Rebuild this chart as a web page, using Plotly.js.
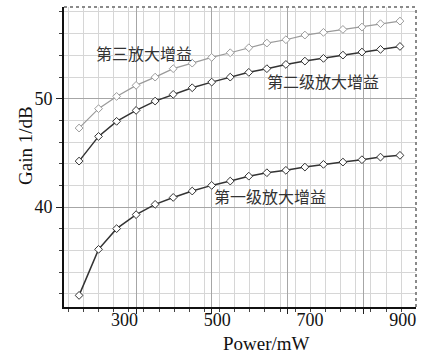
<!DOCTYPE html>
<html>
<head>
<meta charset="utf-8">
<script src="https://cdn.plot.ly/plotly-3.0.1.min.js"></script>
<style>html,body{margin:0;padding:0;background:#fff;}#chart{width:422px;height:358px;}</style>
</head>
<body>
<div id="chart"></div>
<script>
// Power (mW)
const power = [202, 244, 283, 325, 366, 405, 446, 488, 528, 568, 607, 648, 689, 729, 771, 812, 852, 894];
// Gain (dB)
const gainStage3 = [47.29, 49.08, 50.21, 51.23, 51.99, 52.77, 53.28, 53.81, 54.24, 54.70, 55.13, 55.44, 55.87, 56.12, 56.39, 56.61, 56.92, 57.16];
const gainStage2 = [44.24, 46.52, 47.91, 48.92, 49.78, 50.40, 51.01, 51.53, 51.99, 52.43, 52.77, 53.16, 53.47, 53.72, 54.02, 54.30, 54.55, 54.82];
const gainStage1 = [31.85, 36.10, 38.01, 39.30, 40.25, 40.89, 41.48, 42.00, 42.40, 42.85, 43.17, 43.39, 43.69, 43.94, 44.15, 44.37, 44.61, 44.77];
const xTickVals = [300, 500, 700, 900];
const xTickText = ['300', '500', '700', '900'];
const seriesNames = ['第三放大增益', '第二级放大增益', '第一级放大增益'];

const serif = 'Liberation Serif, Times New Roman, serif';
const cjk = 'Noto Sans CJK SC, sans-serif';

function mk(y, name, color, lw) {
  return {
    x: power, y: y, name: name, type: 'scatter', mode: 'lines+markers',
    xaxis: 'x', yaxis: 'y',
    line: {color: color, width: lw},
    marker: {symbol: 'diamond', size: 6, color: '#ffffff', line: {color: color, width: 1}},
    hoverinfo: 'x+y'
  };
}

const traces = [
  {x: [null], y: [null], xaxis: 'x2', yaxis: 'y', mode: 'markers', showlegend: false, hoverinfo: 'skip'},
  mk(gainStage3, seriesNames[0], '#9a9a9a', 1.2),
  mk(gainStage2, seriesNames[1], '#333333', 1.5),
  mk(gainStage1, seriesNames[2], '#333333', 1.5)
];

const PW = 422 - 64 - 6, PH = 358 - 7 - 51;
const layout = {
  width: 422, height: 358,
  margin: {l: 64, r: 6, t: 7, b: 51, pad: 0},
  paper_bgcolor: '#ffffff', plot_bgcolor: '#ffffff',
  showlegend: false,
  font: {family: serif, color: '#111', size: 18},
  xaxis: {
    range: [169.5, 928.6], tickvals: xTickVals, ticktext: xTickText,
    ticks: '', ticklabelstandoff: 0,
    showgrid: false, zeroline: false, showline: false,
    tickfont: {family: serif, size: 18, color: '#111'}
  },
  xaxis2: {
    overlaying: 'x', anchor: 'y', side: 'bottom',
    range: [108.9, 1039.3], tick0: 100, dtick: 200,
    showgrid: true, gridcolor: '#a6a6a6', gridwidth: 1,
    showticklabels: false, ticks: 'outside', ticklen: 5, tickcolor: '#222', tickwidth: 1,
    minor: {dtick: 40, showgrid: true, gridcolor: '#d6d6d6', gridwidth: 1, ticks: 'outside', ticklen: 3, tickcolor: '#444'},
    showline: true, linecolor: '#111', linewidth: 2, zeroline: false
  },
  yaxis: {
    range: [30.78, 58.46], tick0: 0, dtick: 10,
    showgrid: true, gridcolor: '#a6a6a6', gridwidth: 1,
    ticks: 'outside', ticklen: 6, tickcolor: '#222', tickwidth: 1,
    minor: {dtick: 2, showgrid: true, gridcolor: '#d6d6d6', gridwidth: 1, ticks: 'outside', ticklen: 3, tickcolor: '#444'},
    showline: true, linecolor: '#111', linewidth: 2, zeroline: false,
    tickfont: {family: serif, size: 18, color: '#111'}
  },
  shapes: [
    {type: 'line', xref: 'paper', yref: 'paper', x0: 0, x1: 1, y0: 1, y1: 1, line: {color: '#8a8a8a', width: 2, dash: 'dot'}},
    {type: 'line', xref: 'paper', yref: 'paper', x0: 1, x1: 1, y0: 0, y1: 1, line: {color: '#8a8a8a', width: 2, dash: 'dot'}}
  ],
  annotations: [
    {text: seriesNames[0], x: 342, y: 54.18, xref: 'x', yref: 'y', showarrow: false, font: {family: cjk, size: 16, color: '#333'}},
    {text: seriesNames[1], x: 727, y: 51.62, xref: 'x', yref: 'y', showarrow: false, font: {family: cjk, size: 16, color: '#333'}},
    {text: seriesNames[2], x: 614, y: 40.99, xref: 'x', yref: 'y', showarrow: false, font: {family: cjk, size: 16, color: '#333'}},
    {text: 'Power/mW', xref: 'paper', yref: 'paper', x: (266 - 64) / PW, y: (358 - 51 - 343) / PH,
     xanchor: 'center', yanchor: 'middle', showarrow: false, font: {family: serif, size: 19, color: '#111'}},
    {text: 'Gain 1/dB', textangle: -90, xref: 'paper', yref: 'paper', x: (25 - 64) / PW, y: (358 - 51 - 146) / PH,
     xanchor: 'center', yanchor: 'middle', showarrow: false, font: {family: serif, size: 19, color: '#111'}}
  ]
};

Plotly.newPlot('chart', traces, layout, {displayModeBar: false, staticPlot: true});
</script>
</body>
</html>
